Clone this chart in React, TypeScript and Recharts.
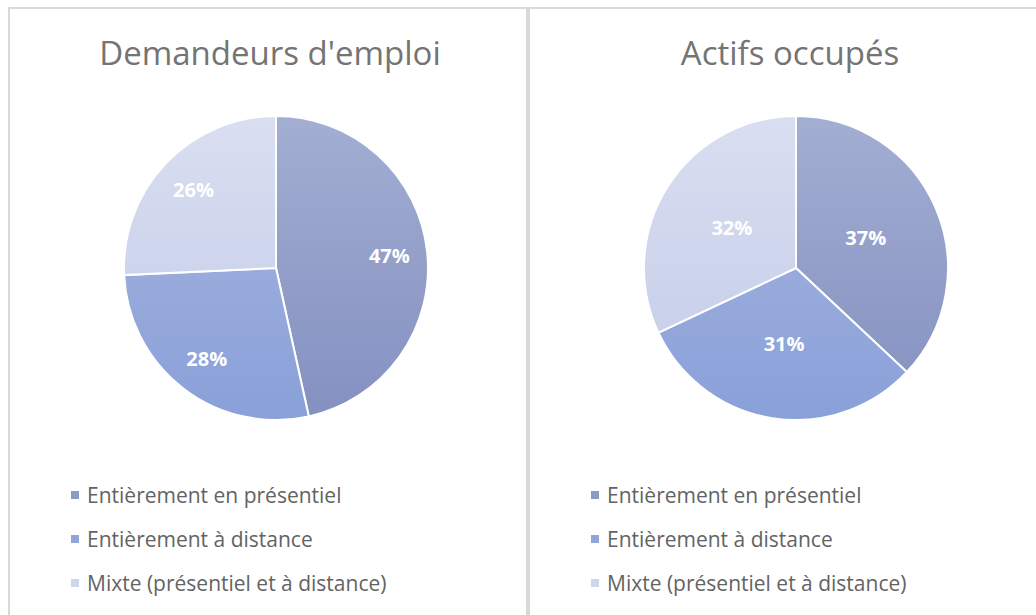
import React from "react";
import { PieChart, Pie, Cell, Legend } from "recharts";

const categories = [
  "Entièrement en présentiel",
  "Entièrement à distance",
  "Mixte (présentiel et à distance)",
];
const chartTitles = ["Demandeurs d'emploi", "Actifs occupés"];
const demandeursValues = [47, 28, 26];
const actifsValues = [37, 31, 32];
const legendColors = ["#8e9ac6", "#92a5d9", "#cfd6ee"];
const gradientStops = [
  ["#a2aed2", "#8490c0"],
  ["#a9b6df", "#89a0d9"],
  ["#d9dff0", "#c2cbe9"],
];

const RADIAN = Math.PI / 180;
const FONT = "'Open Sans', 'Noto Sans', sans-serif";

const makeLabel = (factor: number) => (props: any) => {
  const { cx, cy, midAngle, outerRadius, value } = props;
  const r = outerRadius * factor;
  const x = cx + r * Math.cos(-midAngle * RADIAN);
  const y = cy + r * Math.sin(-midAngle * RADIAN);
  return (
    <text
      x={x}
      y={y}
      fill="#ffffff"
      textAnchor="middle"
      dominantBaseline="central"
      fontFamily={FONT}
      fontWeight={700}
      fontSize={20}
    >
      {`${value}%`}
    </text>
  );
};

const LegendContent = (props: any) => {
  const { payload } = props;
  return (
    <div style={{ fontFamily: FONT, fontSize: 21, color: "#636363" }}>
      {(payload || []).map((p: any, i: number) => (
        <div
          key={i}
          style={{ display: "flex", alignItems: "center", height: 44 }}
        >
          <div
            style={{
              width: 8,
              height: 8,
              background: legendColors[i],
              marginRight: 8,
            }}
          />
          <span>{p.value}</span>
        </div>
      ))}
    </div>
  );
};

function PiePanel({
  title,
  values,
  labelFactor,
  left,
}: {
  title: string;
  values: number[];
  labelFactor: number;
  left: number;
}) {
  const data = categories.map((name, i) => ({ name, value: values[i] }));
  return (
    <div
      style={{
        position: "absolute",
        left,
        top: 7,
        width: 520,
        height: 620,
        boxSizing: "border-box",
        border: "2px solid #d9d9d9",
      }}
    >
      <div
        style={{
          position: "absolute",
          left: 0,
          width: 520,
          top: 24,
          textAlign: "center",
          fontFamily: FONT,
          fontSize: 33,
          color: "#747474",
          lineHeight: "40px",
          zIndex: 2,
        }}
      >
        {title}
      </div>
      <div style={{ position: "absolute", left: -2, top: -2 }}>
        <PieChart width={520} height={615} margin={{ top: 0, right: 0, bottom: 0, left: 0 }}>
          <Pie
            data={data}
            dataKey="value"
            nameKey="name"
            cx={268}
            cy={261}
            outerRadius={152}
            startAngle={90}
            endAngle={-270}
            stroke="#ffffff"
            strokeWidth={2}
            isAnimationActive={false}
            labelLine={false}
            label={makeLabel(labelFactor)}
          >
            {data.map((_, i) => (
              <Cell key={i} fill={`url(#grad${i})`} />
            ))}
          </Pie>
          <Legend
            layout="vertical"
            align="center"
            verticalAlign="middle"
            content={<LegendContent />}
            wrapperStyle={{ left: 63, top: 466, width: 440 }}
          />
        </PieChart>
      </div>
    </div>
  );
}

export default function App() {
  return (
    <div
      style={{
        position: "absolute",
        left: 0,
        top: 0,
        width: 1036,
        height: 615,
        overflow: "hidden",
        background: "#ffffff",
      }}
    >
      <svg width={0} height={0} style={{ position: "absolute" }}>
        <defs>
          {gradientStops.map((s, i) => (
            <linearGradient
              key={i}
              id={`grad${i}`}
              gradientUnits="userSpaceOnUse"
              x1={0}
              y1={109}
              x2={0}
              y2={413}
            >
              <stop offset="0%" stopColor={s[0]} />
              <stop offset="100%" stopColor={s[1]} />
            </linearGradient>
          ))}
        </defs>
      </svg>
      <div
        style={{
          position: "absolute",
          left: 833,
          top: -27,
          fontFamily: FONT,
          fontWeight: 700,
          fontSize: 24,
          lineHeight: "24px",
          color: "#000000",
        }}
      >
        type
      </div>
      <PiePanel title={chartTitles[0]} values={demandeursValues} labelFactor={0.75} left={8} />
      <PiePanel title={chartTitles[1]} values={actifsValues} labelFactor={0.5} left={528} />
    </div>
  );
}
